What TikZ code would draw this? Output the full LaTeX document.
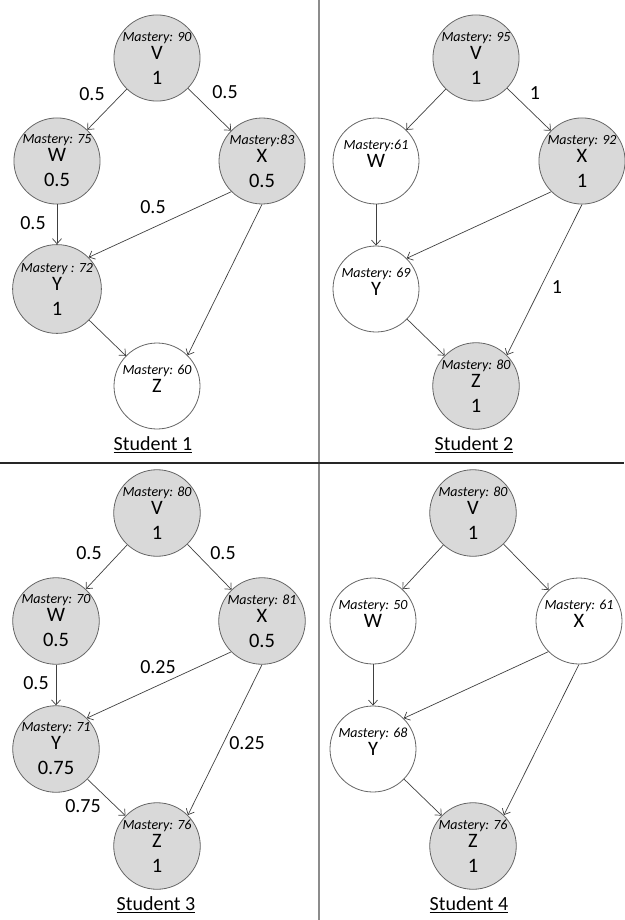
\documentclass[tikz,border=0pt]{standalone}
\usepackage{fontspec}
\setmainfont{Carlito}
\usepackage{tikz}
\usetikzlibrary{arrows.meta}
\tikzset{
    known/.style={
        circle,
        draw=black!60,
        fill=black!15,
        line width=0.8pt,
        minimum size=86pt,
        inner sep=0pt,
        align=center,
        font=\fontsize{20.5}{22}\selectfont
    }
}
\tikzset{
    unknown/.style={known, fill=white, text depth=14pt}
}
\tikzset{
    weight/.style={font=\fontsize{20}{22}\selectfont},
    link/.style={-{Straight Barb[length=5pt,width=9pt]}, draw=black!75, line width=0.7pt}
}
\newcommand{\mastery}[1]{{\fontsize{14}{15}\selectfont\itshape #1}}
\newcommand{\drawKnown}[5]{\node[known] (#1) at #2 {\mastery{#3}\\[-4pt] #4\\[3pt] #5}}
\newcommand{\drawUnknown}[4]{\node[unknown] (#1) at #2 {\mastery{#3}\\[-4pt] #4}}
\newcommand{\drawStudent}[3]{\node[weight] (#1) at #2 {\underline{#3}}}

\begin{document}
\begin{tikzpicture}[x=1pt,y=-1pt]

    \useasboundingbox (0,0) rectangle (624,920);

    \draw[black!45, line width=2pt] (319,0) -- (319,920);
    \draw[black!85, line width=1.5pt] (0,463) -- (624,463);

    % Student 1
    \drawKnown{V1}{(157,58)}{Mastery: 90}{V}{1};
    \drawKnown{W1}{(57,161)}{Mastery: 75}{W}{0.5};
    \drawKnown{X1}{(262,161)}{Mastery:83}{X}{0.5};
    \drawKnown{Y1}{(57,289)}{Mastery : 72}{Y}{1};
    \drawUnknown{Z1}{(157,386)}{Mastery: 60}{Z};

    \draw[link] (V1) -- (W1);
    \draw[link] (V1) -- (X1);
    \draw[link] (W1) -- (Y1);
    \draw[link] (X1.225) -- (Y1.45);
    \draw[link] (X1.south) -- (Z1.45);
    \draw[link] (Y1) -- (Z1);

    \node[weight] (a1) at (92,94) {0.5};
    \node[weight] (b1) at (225,92) {0.5};
    \node[weight] (c1) at (33,223) {0.5};
    \node[weight] (d1) at (153,207) {0.5};

    \drawStudent{s1}{(153,445)}{Student 1};

    % Student 2
    \drawKnown{V2}{(476,58)}{Mastery: 95}{V}{1};
    \drawUnknown{W2}{(376,161)}{Mastery:61}{W};
    \drawKnown{X2}{(582,161)}{Mastery: 92}{X}{1};
    \drawUnknown{Y2}{(376,289)}{Mastery: 69}{Y};
    \drawKnown{Z2}{(476,386)}{Mastery: 80}{Z}{1};

    \draw[link] (V2) -- (W2);
    \draw[link] (V2) -- (X2);
    \draw[link] (W2) -- (Y2);
    \draw[link] (X2.225) -- (Y2.45);
    \draw[link] (X2.south) -- (Z2.45);
    \draw[link] (Y2) -- (Z2);

    \node[weight] (a2) at (535,93) {1};
    \node[weight] (b2) at (557,287) {1};

    \drawStudent{s2}{(474,445)}{Student 2};

    % Student 3
    \drawKnown{V3}{(157,513)}{Mastery: 80}{V}{1};
    \drawKnown{W3}{(56,621)}{Mastery: 70}{W}{0.5};
    \drawKnown{X3}{(262,621)}{Mastery: 81}{X}{0.5};
    \drawKnown{Y3}{(56,749)}{Mastery: 71}{Y}{0.75};
    \drawKnown{Z3}{(157,846)}{Mastery: 76}{Z}{1};

    \draw[link] (V3) -- (W3);
    \draw[link] (V3) -- (X3);
    \draw[link] (W3) -- (Y3);
    \draw[link] (X3.225) -- (Y3.45);
    \draw[link] (X3.south) -- (Z3.45);
    \draw[link] (Y3) -- (Z3);

    \node[weight] (a3) at (89,553) {0.5};
    \node[weight] (b3) at (223,553) {0.5};
    \node[weight] (c3) at (36,683) {0.5};
    \node[weight] (d3) at (158,667) {0.25};
    \node[weight] (e3) at (247,743) {0.25};
    \node[weight] (f3) at (83,806) {0.75};

    \drawStudent{s3}{(156,905)}{Student 3};

    % Student 4
    \drawKnown{V4}{(473,513)}{Mastery: 80}{V}{1};
    \drawUnknown{W4}{(373,621)}{Mastery: 50}{W};
    \drawUnknown{X4}{(579,621)}{Mastery: 61}{X};
    \drawUnknown{Y4}{(373,749)}{Mastery: 68}{Y};
    \drawKnown{Z4}{(473,846)}{Mastery: 76}{Z}{1};

    \draw[link] (V4) -- (W4);
    \draw[link] (V4) -- (X4);
    \draw[link] (W4) -- (Y4);
    \draw[link] (X4.225) -- (Y4.45);
    \draw[link] (X4.south) -- (Z4.45);
    \draw[link] (Y4) -- (Z4);

    \drawStudent{s4}{(469,905)}{Student 4};

\end{tikzpicture}
\end{document}
